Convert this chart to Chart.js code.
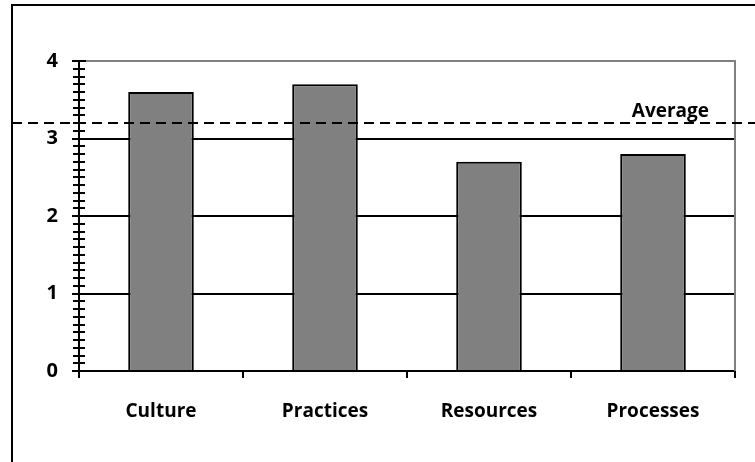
<!DOCTYPE html>
<html>
<head>
<meta charset="utf-8">
<script src="https://cdn.jsdelivr.net/npm/chart.js@4"></script>
<style>
  html, body { margin: 0; padding: 0; background: #fff; }
  #wrap { width: 755px; height: 462px; }
</style>
</head>
<body>
<div id="wrap"><canvas id="chart"></canvas></div>
<script>
let categories = ["Culture", "Practices", "Resources", "Processes"];
let scores = [3.6, 3.7, 2.7, 2.8];
let yTicks = [0, 1, 2, 3, 4];
let averageLabel = "Average";

let average = scores.reduce((a, b) => a + b, 0) / scores.length;
let fontFamily = "'Open Sans', sans-serif";

// frame, minor ticks, plot border and the average line
let decorations = {
    id: "decorations",
    afterDraw(chart) {
        let ctx = chart.ctx;
        let area = chart.chartArea;
        let y = chart.scales.y;
        ctx.save();

        // outer frame (top and left only)
        ctx.strokeStyle = "#000";
        ctx.lineWidth = 2;
        ctx.beginPath();
        ctx.moveTo(12, chart.height);
        ctx.lineTo(12, 5);
        ctx.lineTo(chart.width, 5);
        ctx.stroke();

        // plot border top/right in grey
        ctx.strokeStyle = "#808080";
        ctx.beginPath();
        ctx.moveTo(area.left, area.top);
        ctx.lineTo(area.right, area.top);
        ctx.lineTo(area.right, area.bottom);
        ctx.stroke();

        // crossing tick marks on the value axis
        ctx.strokeStyle = "#000";
        ctx.lineWidth = 2;
        for (let i = 0; i <= 40; i++) {
            let py = Math.round(y.getPixelForValue(i / 10));
            let len = i % 10 === 0 ? 7 : 6;
            ctx.beginPath();
            ctx.moveTo(area.left - len, py);
            ctx.lineTo(area.left + len, py);
            ctx.stroke();
        }

        // average line
        let ay = y.getPixelForValue(average);
        ctx.lineWidth = 2;
        ctx.setLineDash([10, 6]);
        ctx.beginPath();
        ctx.moveTo(12, ay);
        ctx.lineTo(chart.width, ay);
        ctx.stroke();
        ctx.setLineDash([]);

        ctx.fillStyle = "#000";
        ctx.font = "bold 19px " + fontFamily;
        ctx.textAlign = "right";
        ctx.textBaseline = "bottom";
        ctx.fillText(averageLabel, 709, ay - 2);
        ctx.restore();
    }
};

let chartCanvas = document.getElementById("chart").getContext("2d");
let graph = new Chart(chartCanvas, {
    type: "bar",
    data: {
        labels: categories,
        datasets: [{
            data: scores,
            backgroundColor: "#808080",
            borderColor: "#000",
            borderWidth: 2,
            barPercentage: 0.4,
            categoryPercentage: 1
        }]
    },
    options: {
        responsive: true,
        maintainAspectRatio: false,
        animation: false,
        layout: { padding: { left: 0, right: 20, top: 61, bottom: 0 } },
        plugins: { legend: { display: false }, tooltip: { enabled: false } },
        scales: {
            x: {
                grid: {
                    offset: true,
                    drawOnChartArea: false,
                    drawTicks: true,
                    tickLength: 7,
                    color: "#000",
                    lineWidth: 2
                },
                border: { color: "#000", width: 2 },
                ticks: {
                    color: "#000",
                    padding: 22,
                    font: { family: fontFamily, size: 19, weight: "bold" }
                },
                afterFit: (scale) => { scale.height = 91; }
            },
            y: {
                min: yTicks[0],
                max: yTicks[yTicks.length - 1],
                afterBuildTicks: (scale) => { scale.ticks = yTicks.map(v => ({ value: v })); },
                grid: {
                    drawTicks: false,
                    color: (c) => (c.tick && (c.tick.value === 0 || c.tick.value === 4)) ? "rgba(0,0,0,0)" : "#000",
                    lineWidth: 2
                },
                border: { color: "#000", width: 2 },
                ticks: {
                    color: "#000",
                    padding: 21,
                    font: { family: fontFamily, size: 20, weight: "bold" }
                },
                afterFit: (scale) => { scale.width = 79; }
            }
        }
    },
    plugins: [decorations]
});
</script>
</body>
</html>
